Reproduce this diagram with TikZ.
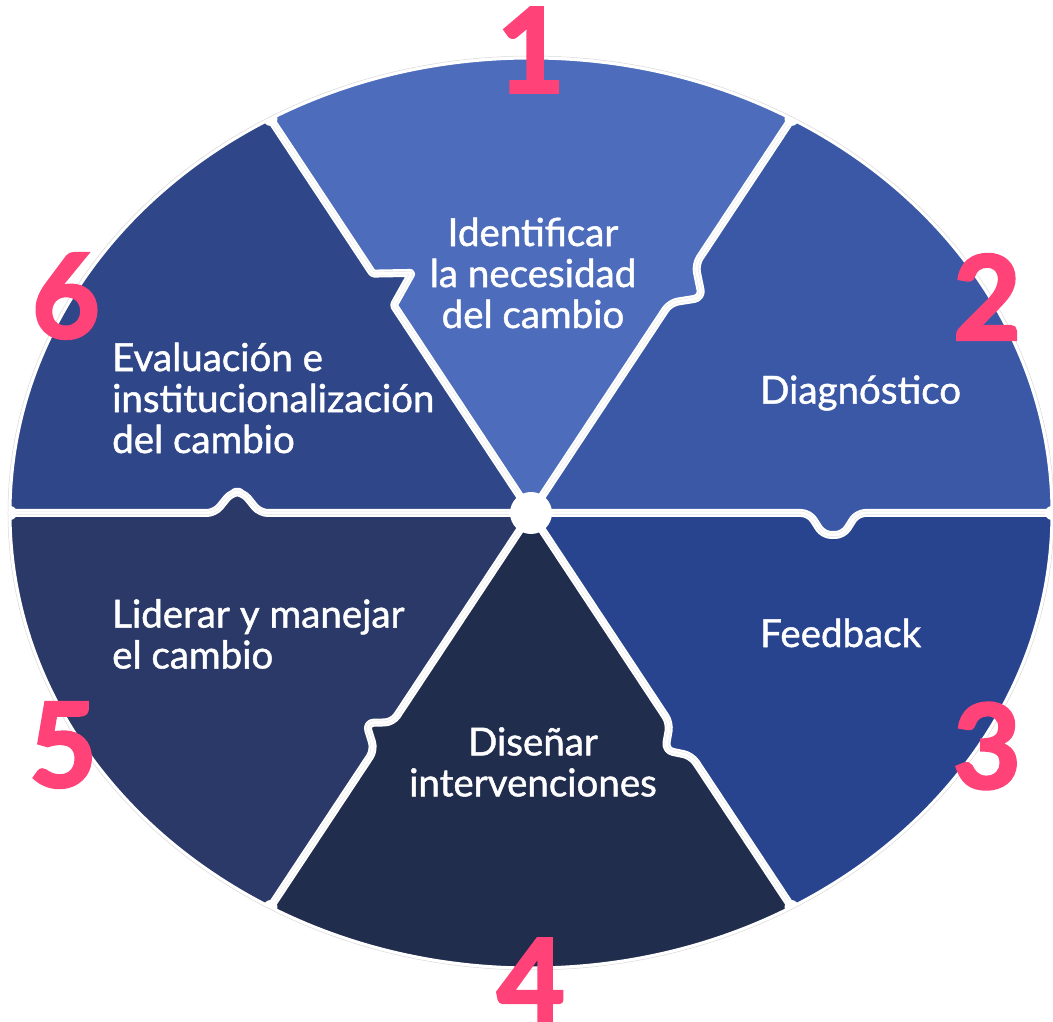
\documentclass[tikz,border=0pt]{standalone}
\usepackage{fontspec}
\setmainfont{Lato}
\newfontfamily\lblfont{Lato}[FakeBold=1.2]
\newfontfamily\numfont{Lato}[BoldFeatures={FakeBold=2.5}]
\definecolor{secA}{HTML}{4D6CBB}
\definecolor{secB}{HTML}{3B58A6}
\definecolor{secC}{HTML}{29448F}
\definecolor{secD}{HTML}{212D4D}
\definecolor{secE}{HTML}{2A3967}
\definecolor{secF}{HTML}{2F4688}
\definecolor{numpink}{HTML}{FF4379}
\begin{document}
\begin{tikzpicture}[x=1pt,y=1pt,
  lbl/.style={text=white, font=\lblfont\fontsize{38.5}{41}\selectfont, inner sep=0pt},
  num/.style={text=numpink, font=\numfont\bfseries\fontsize{117}{117}\selectfont, inner sep=0pt},
  gap/.style={draw=white, line width=8pt, line join=round},
  seam/.style={draw=black!12, line width=0.4pt, double=white, double distance=3pt, line join=round},
  corner/.style={fill=white},
]
\useasboundingbox (-531,-509) rectangle (522,513);
% sectors
\fill[secA] (0,0) -- (60:521 and 455) arc[start angle=60,end angle=120,x radius=521,y radius=455] -- cycle;
\fill[secB] (0,0) -- (0:521 and 455) arc[start angle=0,end angle=60,x radius=521,y radius=455] -- cycle;
\fill[secC] (0,0) -- (-60:521 and 455) arc[start angle=-60,end angle=0,x radius=521,y radius=455] -- cycle;
\fill[secD] (0,0) -- (-120:521 and 455) arc[start angle=-120,end angle=-60,x radius=521,y radius=455] -- cycle;
\fill[secE] (0,0) -- (-180:521 and 455) arc[start angle=-180,end angle=-120,x radius=521,y radius=455] -- cycle;
\fill[secF] (0,0) -- (120:521 and 455) arc[start angle=120,end angle=180,x radius=521,y radius=455] -- cycle;

% divider 0 deg: sector 2 tab into sector 3
\begin{scope}[shift={(0:302.2 and 263.9)}, rotate=0, rounded corners=8pt]
  \fill[secB] (-45,0) -- (-24,0) -- (-10,-22) -- (10,-22) -- (24,0) -- (45,0) -- (45,6) -- (-45,6) -- cycle;
  \path[gap] (-302.2,0) -- (-24,0) -- (-10,-22) -- (10,-22) -- (24,0) -- (224,0);
  \path[seam] (-280,0) -- (-24,0) -- (-10,-22) -- (10,-22) -- (24,0) -- (212,0);
\end{scope}
% divider 60 deg: sector 1 tab into sector 2
\begin{scope}[shift={(60:302.2 and 263.9)}, rotate=56.52, rounded corners=8pt]
  \fill[secA] (-45,0) -- (-22,0) -- (0,-24) -- (24,0) -- (45,0) -- (45,6) -- (-45,6) -- cycle;
  \path[gap] (-273.9,0) -- (-22,0) -- (0,-24) -- (24,0) -- (204,0);
  \path[seam] (-250,0) -- (-22,0) -- (0,-24) -- (24,0) -- (192,0);
\end{scope}
% divider 120 deg: sector 6 tab into sector 1
\begin{scope}[shift={(120:302.2 and 263.9)}, rotate=123.48, rounded corners=1.5pt]
  \fill[secF] (-45,0) -- (-25,0) -- (-8,-33) -- (13,0) -- (45,0) -- (45,6) -- (-45,6) -- cycle;
  \path[gap] (-273.9,0) -- (-25,0) -- (-8,-33) -- (13,0) -- (204,0);
  \path[seam] (-250,0) -- (-25,0) -- (-8,-33) -- (13,0) -- (192,0);
\end{scope}
% divider 180 deg: sector 5 tab into sector 6
\begin{scope}[shift={(180:302.2 and 263.9)}, rotate=180, rounded corners=8pt]
  \fill[secE] (-50,0) -- (-31,0) -- (-14,-21) -- (-3,-21) -- (14,0) -- (45,0) -- (45,6) -- (-50,6) -- cycle;
  \path[gap] (-302.2,0) -- (-31,0) -- (-14,-21) -- (-3,-21) -- (14,0) -- (224,0);
  \path[seam] (-280,0) -- (-31,0) -- (-14,-21) -- (-3,-21) -- (14,0) -- (212,0);
\end{scope}
% divider 240 deg: sector 4 tab into sector 5
\begin{scope}[shift={(240:302.2 and 263.9)}, rotate=236.52, rounded corners=8pt]
  \fill[secD] (-45,0) -- (-23,0) -- (-8,-22) -- (10,0) -- (45,0) -- (45,6) -- (-45,6) -- cycle;
  \path[gap] (-273.9,0) -- (-23,0) -- (-8,-22) -- (10,0) -- (204,0);
  \path[seam] (-250,0) -- (-23,0) -- (-8,-22) -- (10,0) -- (192,0);
\end{scope}
% divider 300 deg: sector 3 tab into sector 4
\begin{scope}[shift={(300:302.2 and 263.9)}, rotate=-56.52, rounded corners=8pt]
  \fill[secC] (-45,0) -- (-22,0) -- (-2,-19) -- (17,0) -- (45,0) -- (45,6) -- (-45,6) -- cycle;
  \path[gap] (-273.9,0) -- (-22,0) -- (-2,-19) -- (17,0) -- (204,0);
  \path[seam] (-250,0) -- (-22,0) -- (-2,-19) -- (17,0) -- (192,0);
\end{scope}

% rounded rim corners: small white flares where dividers meet the rim
\foreach \a in {0,60,120,180,240,300}{
  \fill[white] (\a:521 and 455) circle (7);
}
% centre and rim
\fill[white] (0,0) circle (21);
\draw[white, line width=3pt] (0,0) ellipse [x radius=521, y radius=455];
\draw[black!15, line width=0.5pt] (0,0) ellipse [x radius=523, y radius=457];

% labels
\node[lbl, align=center] (t1) at (2,240) {Identificar\\la necesidad\\del cambio};
\node[lbl, anchor=west] (t2) at (229,120) {Diagnóstico};
\node[lbl, anchor=west] (t3) at (229,-120) {Feedback};
\node[lbl, align=center] (t4) at (2,-249) {Diseñar\\intervenciones};
\node[lbl, align=left, anchor=west] (t5) at (-419,-121) {Liderar y manejar\\el cambio};
\node[lbl, align=left, anchor=west] (t6) at (-419,115) {Evaluación e\\institucionalización\\del cambio};

% numbers
\node[num] (n1) at (0,463) {1};
\node[num] (n2) at (456,216) {2};
\node[num] (n3) at (456,-233) {3};
\node[num] (n4) at (0,-468) {4};
\node[num] (n5) at (-468,-232) {5};
\node[num] (n6) at (-465,217) {6};
\end{tikzpicture}
\end{document}
